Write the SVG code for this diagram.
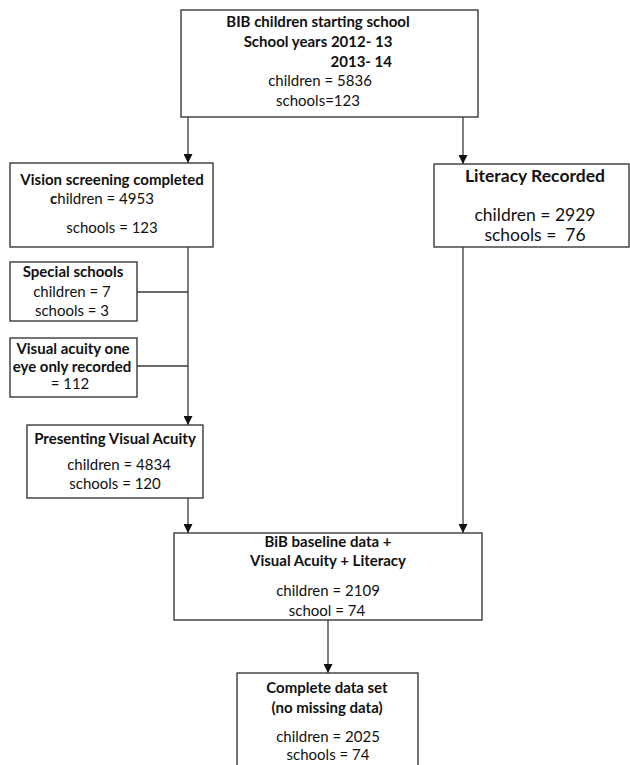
<svg xmlns="http://www.w3.org/2000/svg" width="630" height="765" viewBox="0 0 630 765">
<defs>
<style>
.box{fill:#fff;stroke:#3a3a3a;stroke-width:1.4}
.ln{fill:none;stroke:#3a3a3a;stroke-width:1.3}
text{font-family:Lato,"Open Sans","Liberation Sans",sans-serif;font-size:15px;fill:#111;text-anchor:middle}
.b{font-weight:bold}
.big{font-size:17.5px}
</style>
<marker id="ah" viewBox="0 0 10 10" refX="10" refY="5" markerWidth="9" markerHeight="9" markerUnits="userSpaceOnUse" orient="auto">
<path d="M0,0 L10,5 L0,10 z" fill="#111"/>
</marker>
</defs>
<rect width="630" height="765" fill="#fff"/>
<g id="connectors">
<line class="ln" x1="188" y1="117" x2="188" y2="163" marker-end="url(#ah)"/>
<line class="ln" x1="463" y1="117" x2="463" y2="164" marker-end="url(#ah)"/>
<line class="ln" x1="188" y1="247" x2="188" y2="425" marker-end="url(#ah)"/>
<line class="ln" x1="137" y1="292" x2="188" y2="292"/>
<line class="ln" x1="137" y1="366" x2="188" y2="366"/>
<line class="ln" x1="188" y1="498" x2="188" y2="533" marker-end="url(#ah)"/>
<line class="ln" x1="463" y1="247" x2="463" y2="533" marker-end="url(#ah)"/>
<line class="ln" x1="328" y1="620" x2="328" y2="673" marker-end="url(#ah)"/>
</g>
<g id="n-start">
<rect class="box" x="181" y="10" width="297" height="107"/>
<text class="b" x="318" y="27">BIB children starting school</text>
<text class="b" x="318" y="47">School years 2012- 13</text>
<text class="b" x="392" y="67" style="text-anchor:end">2013- 14</text>
<text x="320" y="86">children = 5836</text>
<text x="318" y="106">schools=123</text>
</g>
<g id="n-vision">
<rect class="box" x="10" y="163" width="203" height="84"/>
<text class="b" x="112" y="185">Vision screening completed</text>
<text x="102" y="204"><tspan class="b">c</tspan>hildren = 4953</text>
<text x="112" y="233">schools = 123</text>
</g>
<g id="n-special">
<rect class="box" x="10" y="262" width="127" height="59"/>
<text class="b" x="73" y="277">Special schools</text>
<text x="72" y="297">children = 7</text>
<text x="72" y="316">schools = 3</text>
</g>
<g id="n-oneeye">
<rect class="box" x="10" y="338" width="127" height="59"/>
<text class="b" x="73" y="354">Visual acuity one</text>
<text class="b" x="72" y="372">eye only recorded</text>
<text x="70" y="389">= 112</text>
</g>
<g id="n-literacy">
<rect class="box" x="434" y="164" width="195" height="83"/>
<text class="b big" x="535" y="182">Literacy Recorded</text>
<text class="big" x="535" y="221">children = 2929</text>
<text class="big" x="535" y="241" xml:space="preserve">schools =  76</text>
</g>
<g id="n-presenting">
<rect class="box" x="27" y="425" width="176" height="73"/>
<text class="b" x="115" y="444">Presenting Visual Acuity</text>
<text x="119" y="470">children = 4834</text>
<text x="115" y="489">schools = 120</text>
</g>
<g id="n-baseline">
<rect class="box" x="174" y="533" width="308" height="87"/>
<text class="b" x="328" y="547">BiB baseline data +</text>
<text class="b" x="328" y="566">Visual Acuity + Literacy</text>
<text x="328" y="596">children = 2109</text>
<text x="327" y="616">school = 74</text>
</g>
<g id="n-complete">
<rect class="box" x="237" y="673" width="181" height="100"/>
<text class="b" x="327" y="693">Complete data set</text>
<text class="b" x="327" y="713">(no missing data)</text>
<text x="328" y="742">children = 2025</text>
<text x="328" y="760">schools = 74</text>
</g>
</svg>
